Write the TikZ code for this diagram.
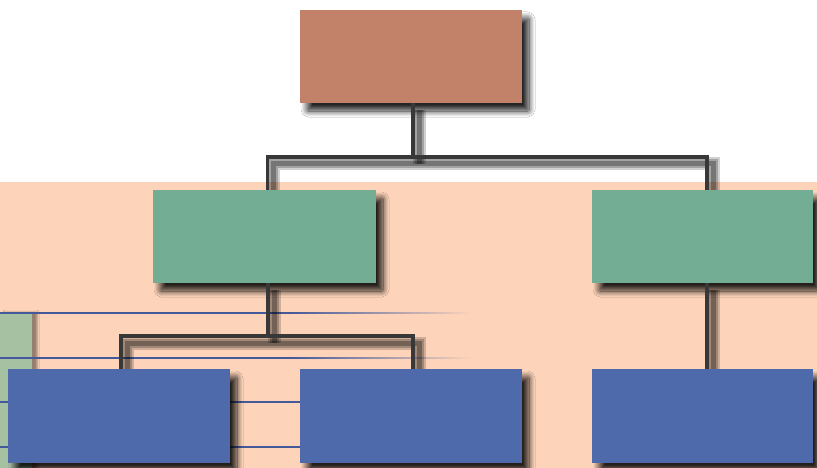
\documentclass[tikz,border=0pt]{standalone}
\usetikzlibrary{shadows.blur}
\definecolor{peach}{HTML}{FDD4BA}
\definecolor{brownbox}{HTML}{C2826A}
\definecolor{greenbox}{HTML}{73AE94}
\definecolor{bluebox}{HTML}{4F6AAA}
\definecolor{sidegreen}{HTML}{A6C0A2}
\definecolor{lineblue}{HTML}{44599A}
\definecolor{conn}{HTML}{383838}
\tikzset{
  boxstyle/.style={draw=none, minimum height=93pt, inner sep=0pt,
    blur shadow={shadow xshift=7pt, shadow yshift=-8pt, shadow blur steps=12, shadow blur radius=6pt, shadow opacity=85, shadow blur extra rounding=1pt}},
  sidestyle/.style={draw=none, inner sep=0pt,
    blur shadow={shadow xshift=5pt, shadow yshift=0pt, shadow blur steps=4, shadow blur radius=2pt, shadow opacity=40}},
  connline/.style={draw=conn, line width=3.2pt},
  connshadowA/.style={draw=black, line width=13pt, opacity=0.18, transform canvas={shift={(6pt,-7pt)}}},
  connshadowB/.style={draw=black, line width=9pt, opacity=0.22, transform canvas={shift={(6pt,-7pt)}}},
  connshadowC/.style={draw=black, line width=5pt, opacity=0.28, transform canvas={shift={(6pt,-7pt)}}},
  thinblue/.style={draw=lineblue, line width=1.7pt}
}
\newcommand{\connpaths}[1]{%
\draw[#1] ([xshift=2pt]top.south) -- ([xshift=2pt]top.south |- bus1);
\draw[#1] ([xshift=3pt]gL.north) -- ([xshift=3pt]gL.north |- bus1) -- ([xshift=4.5pt]gR.north |- bus1) -- ([xshift=4.5pt]gR.north);
\draw[#1] ([xshift=3.5pt]gL.south) -- ([xshift=3.5pt]gL.south |- bus2);
\draw[#1] ([xshift=2pt]bL.north) -- ([xshift=2pt]bL.north |- bus2) -- ([xshift=2pt]bM.north |- bus2) -- ([xshift=2pt]bM.north);
\draw[#1] ([xshift=4.5pt]gR.south) -- ([xshift=4.5pt]bR.north);}
\begin{document}
\begin{tikzpicture}[x=1pt,y=-1pt]
\useasboundingbox (0,0) rectangle (817,468);
\fill[white] (0,0) rectangle (817,468);
\fill[peach] (0,182) rectangle (817,468);
% left side green bar
\node[sidestyle, fill=sidegreen, minimum width=32pt, minimum height=160pt, anchor=north west] (side) at (0,312) {};
% thin blue lines
\coordinate (l1) at (0,313);
\coordinate (l2) at (0,358);
\coordinate (l3) at (0,402);
\coordinate (l4) at (0,447);
\draw[thinblue] (l1) -- ++(290,0);
\shade[left color=lineblue, right color=peach] (290,312.15) rectangle (472,313.85);
\draw[thinblue] (l2) -- ++(290,0);
\shade[left color=lineblue, right color=peach] (290,357.15) rectangle (472,358.85);
\draw[thinblue] (l3) -- ++(302,0);
\draw[thinblue] (l4) -- ++(302,0);
% boxes
\node[boxstyle, fill=brownbox, minimum width=222pt] (top) at (411,56.5) {};
\node[boxstyle, fill=greenbox, minimum width=223pt] (gL) at (264.5,236.5) {};
\node[boxstyle, fill=greenbox, minimum width=221pt] (gR) at (702.5,236.5) {};
\node[boxstyle, fill=bluebox, minimum width=222pt, minimum height=94pt] (bL) at (119,416) {};
\node[boxstyle, fill=bluebox, minimum width=222pt, minimum height=94pt] (bM) at (411,416) {};
\node[boxstyle, fill=bluebox, minimum width=221pt, minimum height=94pt] (bR) at (702.5,416) {};
\coordinate (bus1) at (0,157);
\coordinate (bus2) at (0,336);
% connector shadows (layered for softness)
\connpaths{connshadowA}
\connpaths{connshadowB}
\connpaths{connshadowC}
% connectors
\connpaths{connline}
% redraw boxes on top of connector shadows
\fill[brownbox] (top.north west) rectangle (top.south east);
\fill[greenbox] (gL.north west) rectangle (gL.south east);
\fill[greenbox] (gR.north west) rectangle (gR.south east);
\fill[bluebox] (bL.north west) rectangle (bL.south east);
\fill[bluebox] (bM.north west) rectangle (bM.south east);
\fill[bluebox] (bR.north west) rectangle (bR.south east);
\end{tikzpicture}
\end{document}
